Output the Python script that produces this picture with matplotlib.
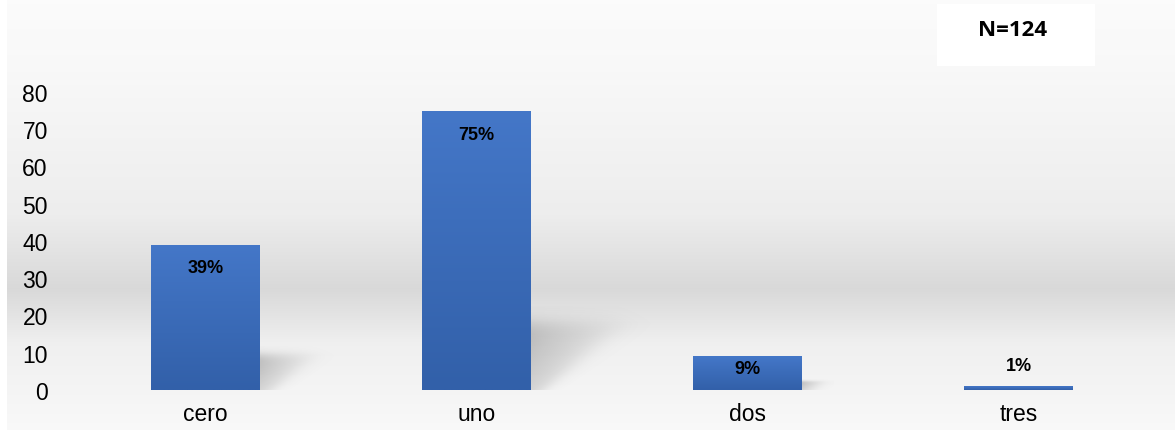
import numpy as np
import matplotlib
matplotlib.use("Agg")
import matplotlib.pyplot as plt
from matplotlib.colors import to_rgb

categories = ["cero", "uno", "dos", "tres"]
values = [39, 75, 9, 1]
labels = ["39%", "75%", "9%", "1%"]
yticks = [0, 10, 20, 30, 40, 50, 60, 70, 80]
n_text = "N=124"

# label offsets in pixels relative to bar top (style)
label_offsets = [-23, -24, -12, 21]

plt.rcParams['font.family'] = ['Liberation Sans', 'DejaVu Sans']

W, H = 1175, 431
fig = plt.figure(figsize=(W / 100, H / 100), dpi=100)
fig.patch.set_facecolor("white")

# background gradient
bg = fig.add_axes([7 / W, 0, 1 - 7 / W, 1], zorder=-5)
bg.set_axis_off()
ys = np.linspace(0, 1, 431)  # 0 = top
stops_pos = [0.0, 0.15, 0.5, 0.673, 0.8, 1.0]
stops_val = [0.985, 0.975, 0.93, 0.85, 0.94, 0.975]
col = np.interp(ys, stops_pos, stops_val)
img = np.repeat(col[:, None], 10, axis=1)
bg.imshow(np.dstack([img, img, img]), aspect="auto", extent=[0, 1, 0, 1], interpolation="bilinear")
bg.set_xlim(0, 1)
bg.set_ylim(0, 1)

ax = fig.add_axes([70 / W, 40 / H, (1154 - 70) / W, (391 - 93) / H])
ax.patch.set_alpha(0)
ax.set_xlim(-0.5, 3.5)
ax.set_ylim(0, 80)
for s in ax.spines.values():
    s.set_visible(False)

x = np.arange(len(categories))
bw = 0.4
bars = ax.bar(x, values, width=bw, color="#3b6cbd", zorder=3)

# gradient fill in bars
top_c = np.array(to_rgb("#4477c8"))
bot_c = np.array(to_rgb("#3260a9"))
grad = np.linspace(0, 1, 100)[:, None]
gimg = top_c[None, None, :] * (1 - grad[..., None]) + bot_c[None, None, :] * grad[..., None]
for b in bars:
    x0, y0 = b.get_x(), b.get_y()
    w, h = b.get_width(), b.get_height()
    im = ax.imshow(gimg, extent=[x0, x0 + w, y0, y0 + h], aspect="auto", zorder=4,
                   interpolation="bilinear")
    im.set_clip_path(b)

# shadows
for b in bars:
    h = b.get_height()
    if h < 5:
        continue
    xr = b.get_x() + b.get_width()
    sh = 0.24 * h
    wtop = 0.0038 * h + 0.05  # width at top in data units
    wbot = 0.05
    nx, ny = 200, 120
    us = np.linspace(0, wtop * 1.4, nx)
    vs = np.linspace(0, 1.25, ny)
    U, V = np.meshgrid(us, vs)
    right = wbot + (wtop - wbot) * np.clip(V, 0, 1)
    soft = 0.035 + 0.25 * right
    a = 1 / (1 + np.exp(-(right - U) / (soft * 0.35)))
    a *= 1 / (1 + np.exp(-(1.0 - V) / 0.08))
    a *= np.clip(0.55 + 0.45 * V, 0, 1)
    a *= np.exp(-U / (wtop * 0.9))
    a = 0.45 * a
    rgba = np.zeros((ny, nx, 4))
    rgba[..., :3] = 0.45
    rgba[..., 3] = a
    ax.imshow(rgba, extent=[xr, xr + wtop * 1.4, 0, sh * 1.25], origin="lower",
              aspect="auto", zorder=2, interpolation="bilinear")

ax.set_xlim(-0.5, 3.5)
ax.set_ylim(0, 80)

for xi, v, lab, off in zip(x, values, labels, label_offsets):
    ax.annotate(lab, (xi, v), xytext=(0, off * 0.72), textcoords="offset points",
                ha="center", va="center", fontsize=13, fontweight="bold", color="black",
                zorder=6)

ax.set_xticks(x)
ax.set_xticklabels(categories, fontsize=16.5)
ax.set_yticks(yticks)
ax.set_yticklabels([str(t) for t in yticks], fontsize=16.5)
ax.tick_params(axis="both", length=0)
ax.tick_params(axis="y", pad=16)
ax.tick_params(axis="x", pad=9)

# N box
fig.patches.append(plt.Rectangle((937 / W, 1 - 67 / H), (1095 - 937) / W, (67 - 5) / H,
                                 transform=fig.transFigure, facecolor="white",
                                 edgecolor="none", zorder=1))
fig.text(1013 / W, 1 - 31 / H, n_text, ha="center", va="center", fontsize=16,
         fontweight="bold", family=["Open Sans", "DejaVu Sans"])

fig.savefig("out.png", dpi=100)
